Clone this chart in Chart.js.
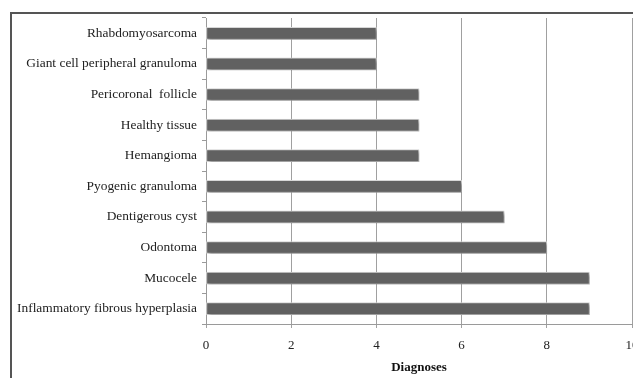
<!DOCTYPE html>
<html>
<head>
<meta charset="utf-8">
<script src="https://cdn.jsdelivr.net/npm/chart.js@4"></script>
<style>
  html, body { margin: 0; padding: 0; background: #ffffff; overflow: hidden; }
  #wrap { position: relative; width: 633px; height: 378px; overflow: hidden; }
  #frame { position: absolute; left: 10px; top: 12px; width: 700px; height: 400px;
           border-left: 2px solid #555; border-top: 2px solid #555; box-sizing: border-box; pointer-events: none; }
  canvas { position: absolute; left: 0; top: 0; }
</style>
</head>
<body>
<div id="wrap">
  <canvas id="c" width="680" height="378"></canvas>
  <div id="frame"></div>
</div>
<script>
// Diagnoses by number of cases
const categories = [
  'Rhabdomyosarcoma',
  'Giant cell peripheral granuloma',
  'Pericoronal  follicle',
  'Healthy tissue',
  'Hemangioma',
  'Pyogenic granuloma',
  'Dentigerous cyst',
  'Odontoma',
  'Mucocele',
  'Inflammatory fibrous hyperplasia'
];
const cases = [4, 4, 5, 5, 5, 6, 7, 8, 9, 9];
const xTicks = [0, 2, 4, 6, 8, 10];
const axisTitle = 'Diagnoses';

const serif = '"Liberation Serif", "Times New Roman", serif';

// soft drop shadow under the bars
const barShadow = {
  id: 'barShadow',
  beforeDatasetsDraw(chart) {
    const ctx = chart.ctx;
    ctx.save();
    ctx.shadowColor = 'rgba(0,0,0,0.35)';
    ctx.shadowBlur = 3;
    ctx.shadowOffsetX = 2;
    ctx.shadowOffsetY = 2;
  },
  afterDatasetsDraw(chart) {
    chart.ctx.restore();
  }
};

new Chart(document.getElementById('c'), {
  type: 'bar',
  data: {
    labels: categories,
    datasets: [{
      data: cases,
      backgroundColor: '#616161',
      borderColor: '#d9d9d9',
      borderWidth: 1,
      borderSkipped: false,
      barThickness: 12
    }]
  },
  plugins: [barShadow],
  options: {
    indexAxis: 'y',
    responsive: false,
    animation: false,
    devicePixelRatio: 1,
    layout: { padding: { top: 18, right: 48, bottom: 0, left: 0 } },
    plugins: { legend: { display: false }, tooltip: { enabled: false } },
    scales: {
      x: {
        min: 0,
        max: 10,
        afterBuildTicks(scale) { scale.ticks = xTicks.map(v => ({ value: v })); },
        afterFit(scale) { scale.height = 54; },
        grid: { color: '#a0a0a0', lineWidth: 1, tickLength: 4, drawTicks: true },
        border: { color: '#9a9a9a' },
        ticks: { color: '#222', font: { family: serif, size: 13 }, padding: 10, maxRotation: 0 },
        title: { display: true, text: axisTitle, color: '#111',
                 font: { family: serif, size: 13, weight: 'bold' }, padding: { top: 0, bottom: 3 } }
      },
      y: {
        afterFit(scale) { scale.width = 206; },
        grid: { drawOnChartArea: false, tickLength: 4, color: '#9a9a9a' },
        border: { color: '#9a9a9a' },
        ticks: { color: '#222', font: { family: serif, size: 13.4 }, padding: 5, autoSkip: false }
      }
    }
  }
});
</script>
</body>
</html>
